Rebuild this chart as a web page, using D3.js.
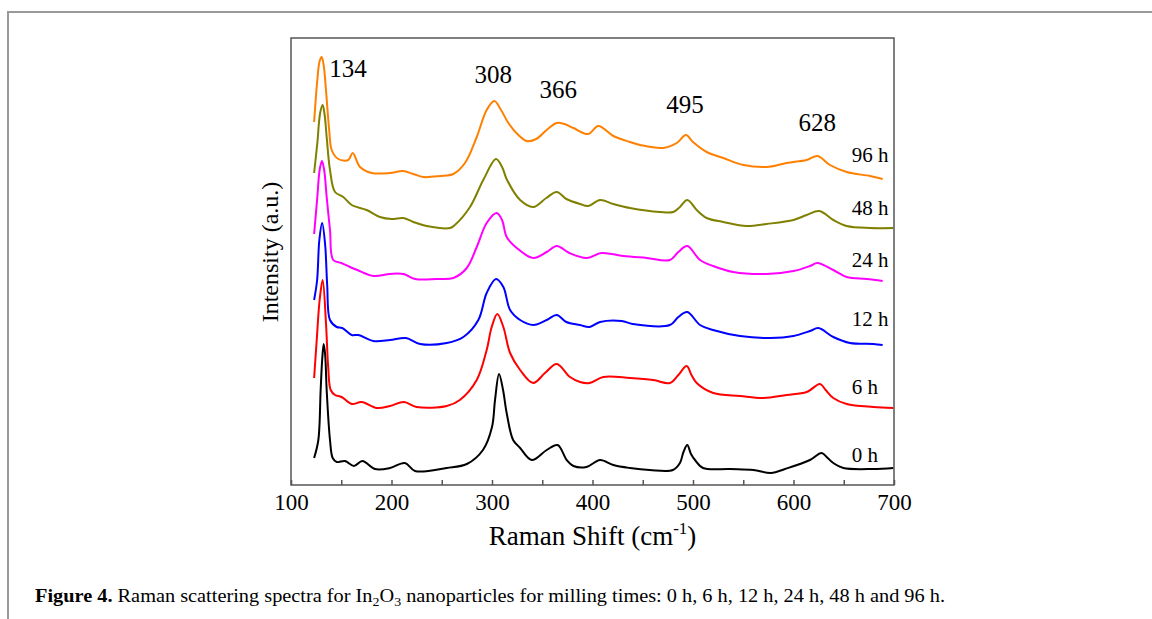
<!DOCTYPE html>
<html>
<head>
<meta charset="utf-8">
<script src="https://cdn.jsdelivr.net/npm/d3@7"></script>
<style>
  body { margin: 0; background: #fff; }
  svg { display: block; font-family: "Liberation Serif", "Times New Roman", serif; }
  .axis path, .axis line { stroke: #555; }
  .axis text { font-family: "Liberation Serif", serif; fill: #000; }
</style>
</head>
<body>
<svg id="fig" width="1152" height="619"></svg>
<script>
// Raman spectra, [shift (cm-1), intensity (a.u.)]
const spec0h = [[123,27],[127.2,45],[129.5,95],[131,125],[132.5,141],[134,130],[135.5,95],[138.8,45],[141.5,27],[145.5,23],[153.7,24],[162.7,19],[171,24],[183.6,16],[198.5,17],[213.4,22],[223.4,14],[255,17],[275,21],[291,35],[300,58],[303,85],[307,111],[311,95],[314.6,72],[321,45],[328,37],[339.5,25],[354.4,35],[365.3,40],[374.3,25],[381,19],[394,18],[407.5,25],[420.7,20],[437.3,17],[457,15],[480,15],[487,22],[490.5,33],[494.3,40],[498,31],[502,25],[510,17],[536.8,16],[560,15],[578,12],[591.5,16],[616.4,25],[628,32],[634,27],[639.6,22],[649.6,17],[679.4,16],[699.3,17]]
const spec6h = [[123,107],[125.6,145],[128.5,185],[131.5,205],[134.8,162],[137,118],[139.5,95],[143.8,90],[150.4,88],[160.4,81],[170.3,83],[185.3,77],[198.5,79],[212.4,83],[225,78],[255,79],[268,85],[284.8,105],[294.7,135],[299.7,158],[305.3,171],[311.3,158],[318,132],[328,115],[341,102],[352.7,112],[364.4,121],[377.6,108],[387.6,103],[397,102],[410.7,108],[437.3,107],[460.5,105],[477.1,102],[485.4,110],[493.7,119],[498.5,110],[503.7,102],[520.2,92],[546.8,89],[570,87],[593.2,90],[613.1,93],[626.4,101],[632,95],[639.6,87],[652.9,81],[679.4,78],[699.3,77]]
const spec12h = [[123,185],[126,205],[128.2,245],[131,262],[134,240],[136,200],[138.8,165],[145.5,158],[151,157],[160.4,150],[167,150],[182,144],[198.5,145],[214.4,147],[228.4,141],[255,142],[271.5,148],[286.4,165],[294.7,192],[304,206],[311.3,198],[318,175],[328,165],[341,160],[354.4,165],[364.4,170],[374,163],[387.6,160],[397,158],[407.5,163],[429,164],[440,161],[477,160],[485.4,168],[494.3,173],[507,160],[520,155],[546.8,149],[576.6,147],[600,149],[616.4,154],[624.7,157],[639.6,148],[656.2,142],[679.4,141],[688.7,140]]
const spec24h = [[123,251],[126.2,288],[128.5,315],[130.8,324],[133,315],[135.5,288],[138.8,255],[142,225],[150,222],[158.7,218],[166,215],[182,209],[198.5,211],[211.8,211],[223.4,206],[245,206],[261.6,207],[274.9,217],[284.8,238],[294.7,262],[304.6,272],[310,265],[314.6,248],[324.6,237],[341,227],[354.4,233],[364.4,239],[377,232],[394,227],[409,232],[430.7,229],[454,227],[477,225],[485.4,233],[494.3,239],[507,225],[520,219],[540,213],[573.2,211],[600,214],[616.4,219],[623.7,222],[639.6,215],[652.9,208],[672.8,206],[688.7,204]]
const spec48h = [[123,312],[126.2,342],[129,372],[131.5,380],[133.5,370],[135.5,348],[138.8,315],[143.8,293],[152,288],[160.4,280],[175.3,275],[188.5,268],[200.2,266],[211.8,267],[221.7,263],[235,259],[258.2,257],[263,260],[278.1,278],[291.3,305],[304,326],[310,318],[315,305],[328,285],[341,278],[354,287],[364.4,293],[374,286],[387.6,281],[395.8,279],[407.5,285],[420.7,281],[437.3,277],[467.2,273],[480.4,273],[487,278],[494.3,285],[503.7,275],[513.6,267],[530.2,263],[553.4,259],[573.2,261],[600,265],[613,270],[625.7,274],[639.6,265],[652.9,259],[676.1,257],[699.3,257]]
const spec96h = [[123,363],[126.2,405],[128.5,424],[130.5,428],[132.5,420],[134.8,395],[138,355],[140.5,335],[147,326],[157,325],[161.4,332],[168.7,318],[180.3,312],[198.5,312],[211.1,314],[221.7,311],[231.6,308],[248.3,309],[261.5,311],[273.1,322],[284.8,348],[294.7,375],[302.3,384],[309,375],[316.3,362],[326.2,350],[334.5,344],[344,346],[354.4,355],[364.4,362],[372,361],[381,357],[395.8,351],[405.8,359],[420.7,349],[437.3,343],[447.3,340],[470.4,337],[483.8,342],[493,350],[500,343],[513.6,333],[530.2,327],[550.2,320],[573.2,318],[593.2,322],[613,325],[624,329],[636.3,320],[652.9,313],[676.1,309],[688.7,306]]

const seriesNames = ["0 h", "6 h", "12 h", "24 h", "48 h", "96 h"]
const seriesData = [spec0h, spec6h, spec12h, spec24h, spec48h, spec96h]
const seriesColors = ["#000000", "#ff0000", "#0000ff", "#ff00ff", "#808000", "#ff8000"]
const seriesLabelY = [23, 91, 159, 218, 270, 323]   // intensity where each name sits

const peakNames = ["134", "308", "366", "495", "628"]
const peakLabelX = [156.7, 301.3, 366, 492, 623.7]
const peakLabelY = [408, 402, 387, 372, 354]

const xTicks = [100, 200, 300, 400, 500, 600, 700]
const xMinorTicks = [150, 250, 350, 450, 550, 650]

const svg = d3.select("#fig")

// page frame
svg.append("path")
    .attr("d", "M8,619 V12 H1152")
    .attr("fill", "none")
    .attr("stroke", "#999")
    .attr("stroke-width", 2)

const pLeft = 291, pRight = 894, pTop = 38, pBottom = 485

const x = d3.scaleLinear().domain([100, 700]).range([pLeft, pRight])
const y = d3.scaleLinear().domain([0, pBottom - pTop]).range([pBottom, pTop])

// curves
const line = d3.line()
    .x(d => x(d[0]))
    .y(d => y(d[1]))
    .curve(d3.curveCatmullRom.alpha(0.5))

svg.selectAll(".spec")
    .data(seriesData)
    .join("path")
    .attr("class", "spec")
    .attr("d", line)
    .attr("fill", "none")
    .attr("stroke", (d, i) => seriesColors[i])
    .attr("stroke-width", 2)
    .attr("stroke-linejoin", "round")

// frame of the plot
svg.append("rect")
    .attr("x", pLeft).attr("y", pTop)
    .attr("width", pRight - pLeft).attr("height", pBottom - pTop)
    .attr("fill", "none")
    .attr("stroke", "#555")
    .attr("stroke-width", 1.5)

// bottom axis, ticks pointing inwards
const xAxis = d3.axisBottom(x).tickValues(xTicks).tickSizeInner(-5).tickSizeOuter(0).tickPadding(9)
svg.append("g").attr("class", "axis")
    .attr("transform", `translate(0,${pBottom})`)
    .call(xAxis)
    .call(g => g.select(".domain").remove())
    .call(g => g.selectAll("line").attr("stroke-width", 1.5))
    .call(g => g.selectAll("text").attr("font-size", 23).attr("dy", "0.71em"))

svg.append("g").attr("class", "axis")
    .attr("transform", `translate(0,${pBottom})`)
    .call(d3.axisBottom(x).tickValues(xMinorTicks).tickSizeInner(-5).tickSizeOuter(0).tickFormat(""))
    .call(g => g.select(".domain").remove())
    .call(g => g.selectAll("line").attr("stroke-width", 1.5))

// axis titles
const xt = svg.append("text")
    .attr("x", (pLeft + pRight) / 2)
    .attr("y", 545)
    .attr("text-anchor", "middle")
    .attr("font-size", 27)
xt.append("tspan").text("Raman Shift (cm")
xt.append("tspan").text("-1").attr("font-size", 17).attr("dy", -11)
xt.append("tspan").text(")").attr("dy", 11)

svg.append("text")
    .attr("transform", "translate(278,252) rotate(-90)")
    .attr("text-anchor", "middle")
    .attr("font-size", 24)
    .text("Intensity (a.u.)")

// peak positions
svg.selectAll(".peak")
    .data(peakNames)
    .join("text")
    .attr("class", "peak")
    .attr("x", (d, i) => x(peakLabelX[i]))
    .attr("y", (d, i) => y(peakLabelY[i]))
    .attr("text-anchor", "middle")
    .attr("font-size", 25)
    .text(d => d)

// milling time labels
svg.selectAll(".sname")
    .data(seriesNames)
    .join("text")
    .attr("class", "sname")
    .attr("x", x(658))
    .attr("y", (d, i) => y(seriesLabelY[i]))
    .attr("font-size", 21)
    .text(d => d)

// caption
const cap = svg.append("text")
    .attr("x", 35)
    .attr("y", 602)
    .attr("font-size", 19)
    .attr("textLength", 910)
    .attr("lengthAdjust", "spacingAndGlyphs")
cap.append("tspan").attr("font-weight", "bold").text("Figure 4.")
cap.append("tspan").text(" Raman scattering spectra for In")
cap.append("tspan").text("2").attr("font-size", 13).attr("dy", 4)
cap.append("tspan").text("O").attr("dy", -4)
cap.append("tspan").text("3").attr("font-size", 13).attr("dy", 4)
cap.append("tspan").text(" nanoparticles for milling times: 0 h, 6 h, 12 h, 24 h, 48 h and 96 h.").attr("dy", -4)
</script>
</body>
</html>
